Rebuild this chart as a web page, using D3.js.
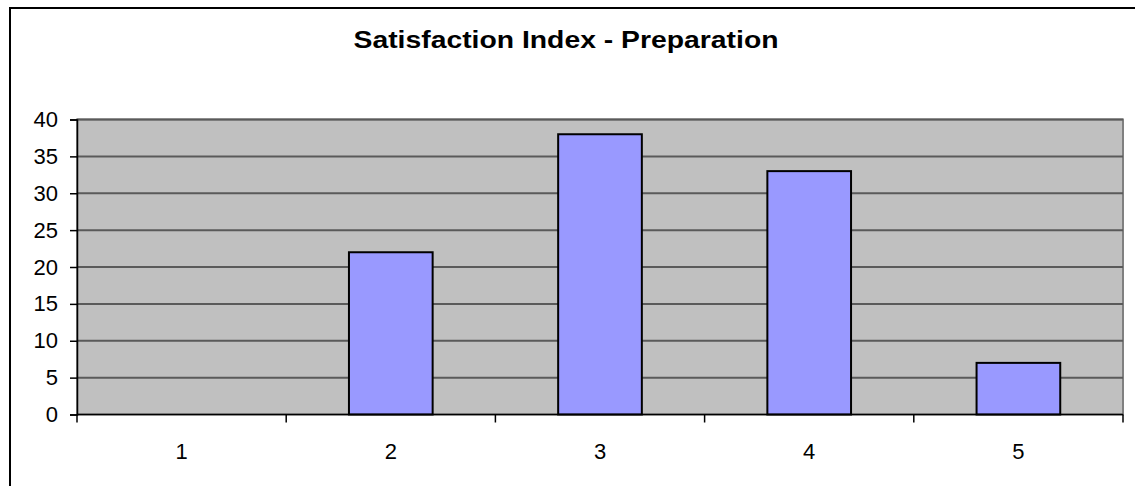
<!DOCTYPE html>
<html>
<head>
<meta charset="utf-8">
<script src="https://cdn.jsdelivr.net/npm/d3@7"></script>
<style>
  body { margin: 0; background: #fff; }
  svg { display: block; font-family: "Liberation Sans", Arial, sans-serif; }
</style>
</head>
<body>
<div id="chart"></div>
<script>
// data
var categories = ["1", "2", "3", "4", "5"];
var values = [0, 22, 38, 33, 7];
var yTicks = [0, 5, 10, 15, 20, 25, 30, 35, 40];
var title = "Satisfaction Index - Preparation";

var width = 1135,
    height = 486;
var plot = {left: 77, right: 1123, top: 119.5, bottom: 414.5};

var svg = d3.select("#chart")
    .append("svg")
    .attr("width", width)
    .attr("height", height);

// outer chart frame (runs off the right and bottom)
svg.append("rect")
    .attr("x", 10)
    .attr("y", 8)
    .attr("width", width + 20)
    .attr("height", height + 20)
    .attr("fill", "#fff")
    .attr("stroke", "#000")
    .attr("stroke-width", 2);

svg.append("text")
    .attr("x", 566)
    .attr("y", 48)
    .attr("text-anchor", "middle")
    .attr("font-size", "23px")
    .attr("font-weight", "bold")
    .attr("textLength", 425)
    .attr("lengthAdjust", "spacingAndGlyphs")
    .text(title);

var x = d3.scaleBand()
    .domain(categories)
    .range([plot.left, plot.right])
    .padding(0);

var y = d3.scaleLinear()
    .domain([0, 40])
    .range([plot.bottom, plot.top]);

// plot background
svg.append("rect")
    .attr("x", plot.left)
    .attr("y", plot.top)
    .attr("width", plot.right - plot.left)
    .attr("height", plot.bottom - plot.top)
    .attr("fill", "#c0c0c0")
    .attr("stroke", "#808080")
    .attr("stroke-width", 2);

// gridlines
svg.append("g")
    .selectAll("line")
    .data(yTicks.filter(function (d) { return d > 0; }))
    .enter()
    .append("line")
    .attr("x1", plot.left)
    .attr("x2", plot.right)
    .attr("y1", function (d) { return y(d); })
    .attr("y2", function (d) { return y(d); })
    .attr("stroke", "#5a5a5a")
    .attr("stroke-width", 2);

// bars
var barW = x.bandwidth() * 0.4;
svg.append("g")
    .selectAll("rect")
    .data(values.map(function (v, i) { return {cat: categories[i], v: v}; }))
    .enter()
    .filter(function (d) { return d.v > 0; })
    .append("rect")
    .attr("x", function (d) { return x(d.cat) + (x.bandwidth() - barW) / 2; })
    .attr("y", function (d) { return y(d.v); })
    .attr("width", barW)
    .attr("height", function (d) { return y(0) - y(d.v); })
    .attr("fill", "#9999ff")
    .attr("stroke", "#000")
    .attr("stroke-width", 2);

// y axis
var yAxis = svg.append("g")
    .attr("transform", "translate(" + plot.left + ",0)")
    .call(d3.axisLeft(y).tickValues(yTicks).tickSize(7).tickPadding(12));
yAxis.select(".domain").attr("stroke", "#000").attr("stroke-width", 1.5);
yAxis.selectAll(".tick line").attr("stroke", "#000").attr("stroke-width", 1.5);
yAxis.selectAll("text")
    .attr("font-size", "22px")
    .attr("font-family", "Liberation Sans, Arial, sans-serif")
    .attr("fill", "#000");

// x axis: ticks at band boundaries
var xAxisG = svg.append("g");
xAxisG.append("line")
    .attr("x1", plot.left)
    .attr("x2", plot.right)
    .attr("y1", y(0))
    .attr("y2", y(0))
    .attr("stroke", "#000")
    .attr("stroke-width", 1.5);
var bounds = categories.map(function (c) { return x(c); }).concat([plot.right]);
xAxisG.selectAll(".xt")
    .data(bounds)
    .enter()
    .append("line")
    .attr("class", "xt")
    .attr("x1", function (d) { return d; })
    .attr("x2", function (d) { return d; })
    .attr("y1", y(0))
    .attr("y2", y(0) + 8)
    .attr("stroke", "#000")
    .attr("stroke-width", 1.5);
xAxisG.selectAll("text")
    .data(categories)
    .enter()
    .append("text")
    .attr("x", function (d) { return x(d) + x.bandwidth() / 2; })
    .attr("y", 459)
    .attr("text-anchor", "middle")
    .attr("font-size", "22px")
    .text(function (d) { return d; });
</script>
</body>
</html>
